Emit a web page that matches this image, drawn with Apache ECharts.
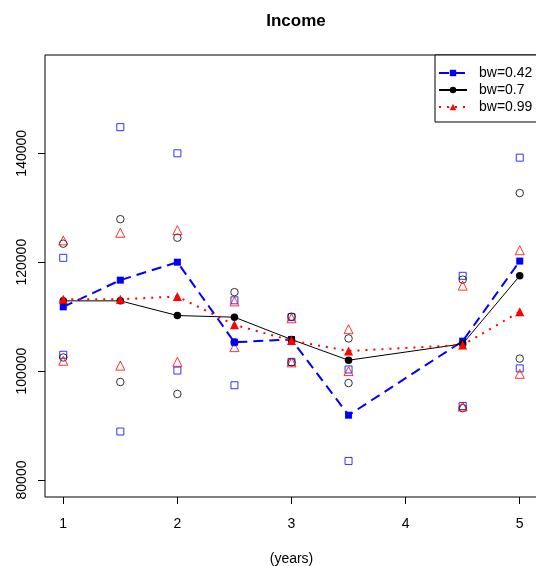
<!DOCTYPE html>
<html>
<head>
<meta charset="utf-8">
<script src="https://cdn.jsdelivr.net/npm/echarts@6/dist/echarts.min.js"></script>
<style>html,body{margin:0;padding:0;background:#fff}#c{width:536px;height:566px}</style>
</head>
<body>
<div id="c"></div>
<script>
var years = [1, 1.5, 2, 2.5, 3, 3.5, 4.5, 5];
var xTicks = [1, 2, 3, 4, 5];
var yTicks = [80000, 100000, 120000, 140000];

var fit042 = [111800, 116700, 120000, 105300, 105800, 91900, 105500, 120200];
var up042  = [120800, 144800, 140000, 113000, 109900, 100300, 117500, 139200];
var lo042  = [103000, 88900, 100100, 97400, 101700, 83500, 93600, 100500];

var fit07 = [112900, 112900, 110200, 109900, 105800, 102000, 105000, 117500];
var up07  = [123400, 127900, 124500, 114500, 110000, 106000, 116800, 132700];
var lo07  = [102500, 98000, 95800, 105300, 101600, 97800, 93200, 102300];

var fit099 = [113200, 113200, 113700, 108500, 105600, 103700, 104800, 110900];
var up099  = [124000, 125400, 125900, 112800, 109700, 107700, 115700, 122200];
var lo099  = [101900, 101000, 101700, 104400, 101600, 100000, 93500, 99500];

function pts(vals) { return years.map(function (x, i) { return [x, vals[i]]; }); }

var FONT = '"Liberation Sans", Arial, Helvetica, sans-serif';
var chart = echarts.init(document.getElementById('c'), null, {renderer: 'canvas'});

function openSeries(name, vals, symbol, size, color) {
  return {
    name: name, type: 'scatter', data: pts(vals), symbol: symbol, symbolSize: size,
    itemStyle: {color: 'rgba(0,0,0,0)', borderColor: color, borderWidth: 1},
    silent: true, z: 3
  };
}

chart.setOption({
  animation: false,
  backgroundColor: '#fff',
  title: {
    text: 'Income', left: 291, top: 8, textAlign: 'center',
    textStyle: {fontFamily: FONT, fontSize: 17, fontWeight: 'bold', color: '#000'}
  },
  grid: {left: 45, top: 55, width: 493, height: 442, outerBoundsMode: 'none', containLabel: false,
    show: true, borderColor: '#000', borderWidth: 1, backgroundColor: 'transparent'},
  xAxis: {
    type: 'value', min: 0.84, max: 5.16,
    name: '(years)', nameLocation: 'middle', nameGap: 55,
    nameTextStyle: {fontFamily: FONT, fontSize: 14, color: '#000'},
    axisLine: {show: false},
    splitLine: {show: false},
    axisTick: {show: true, inside: false, length: 7, customValues: xTicks, lineStyle: {color: '#000'}},
    axisLabel: {customValues: xTicks, margin: 20, fontFamily: FONT, fontSize: 14, color: '#000',
      formatter: function (v) { return String(v); }}
  },
  yAxis: {
    type: 'value', min: 76880, max: 158050,
    axisLine: {show: false},
    splitLine: {show: false},
    axisTick: {show: true, inside: false, length: 7, customValues: yTicks, lineStyle: {color: '#000'}},
    axisLabel: {customValues: yTicks, rotate: 90, margin: 16, fontFamily: FONT, fontSize: 14, color: '#000',
      formatter: function (v) { return String(v); }}
  },
  legend: {
    orient: 'vertical', left: 435, top: 55,
    data: ['bw=0.42', 'bw=0.7', 'bw=0.99'],
    itemWidth: 28, itemHeight: 8, itemGap: 3,
    padding: [11, 6, 8, 3],
    borderColor: '#000', borderWidth: 1, borderRadius: 0,
    backgroundColor: '#fff',
    selectedMode: false,
    textStyle: {fontFamily: FONT, fontSize: 14, color: '#000', padding: [0, 0, 0, 7]}
  },
  series: [
    openSeries('u042', up042, 'rect', 7, '#0000ff'),
    openSeries('l042', lo042, 'rect', 7, '#0000ff'),
    openSeries('u07', up07, 'circle', 7.5, '#000000'),
    openSeries('l07', lo07, 'circle', 7.5, '#000000'),
    openSeries('u099', up099, 'triangle', 9, '#ff0000'),
    openSeries('l099', lo099, 'triangle', 9, '#ff0000'),
    {
      name: 'bw=0.42', type: 'line', data: pts(fit042), symbol: 'rect', symbolSize: 7, showSymbol: true,
      itemStyle: {color: '#0000ff'}, lineStyle: {color: '#0000ff', width: 2, type: [10, 6]}, z: 4, silent: true
    },
    {
      name: 'bw=0.7', type: 'line', data: pts(fit07), symbol: 'circle', symbolSize: 7.5, showSymbol: true,
      itemStyle: {color: '#000000'}, lineStyle: {color: '#000000', width: 1, type: 'solid'}, z: 5, silent: true
    },
    {
      name: 'bw=0.99', type: 'line', data: pts(fit099), symbol: 'triangle', symbolSize: 9, showSymbol: true,
      itemStyle: {color: '#ff0000'}, lineStyle: {color: '#ff0000', width: 2, type: [2, 6]}, z: 6, silent: true
    }
  ]
});
</script>
</body>
</html>
